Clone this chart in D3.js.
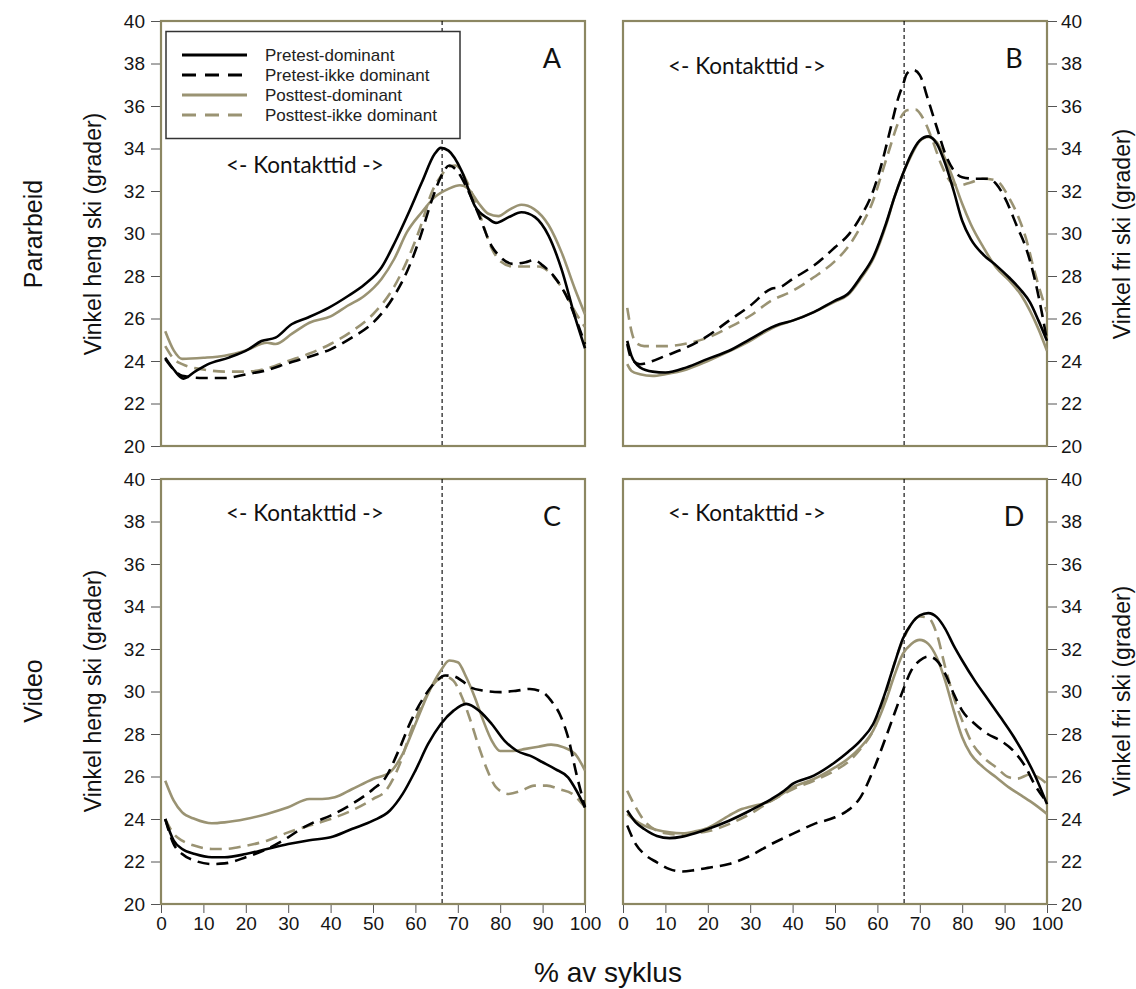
<!DOCTYPE html>
<html>
<head>
<meta charset="utf-8">
<script src="https://cdn.jsdelivr.net/npm/d3@7"></script>
<style>
  body { margin: 0; background: #fff; }
  svg { display: block; }
  .tick text { font-family: "Liberation Sans", Arial, sans-serif; font-size: 19px; fill: #151515; }
</style>
</head>
<body>
<div id="chart"></div>
<script>
// values: [% av syklus, grader]
const A_preDom = [[1,24.16],[3,23.6],[5.3,23.17],[8,23.5],[11,23.84],[16,24.16],[20.6,24.55],[23.7,24.94],[27,25.1],[30.8,25.73],[34.7,26.05],[39.5,26.5],[44.2,27.07],[48,27.6],[52,28.4],[55.2,29.6],[58.3,30.93],[61.5,32.4],[64.6,33.76],[66,34.03],[67.8,33.9],[71,32.9],[74,31.3],[77.2,30.7],[79,30.5],[82,30.77],[85,31.0],[88.2,30.77],[91.4,29.9],[94.5,28.3],[97.6,26.1],[100,24.6]];
const A_preIkke = [[1,24.1],[3,23.6],[5,23.3],[10,23.2],[15,23.2],[20,23.37],[25,23.57],[30,23.9],[35,24.2],[40,24.55],[45,25.1],[50,25.8],[55,27.07],[58,28.2],[61,29.75],[64,31.64],[66,32.66],[68,33.2],[70,32.9],[72,32.2],[75,30.85],[78,29.4],[80,28.9],[83,28.57],[86,28.65],[88,28.75],[90,28.5],[93,27.9],[96,26.9],[98,25.9],[100,24.8]];
const A_postDom = [[1,25.4],[3,24.5],[5,24.1],[10,24.15],[15,24.25],[20,24.5],[25,24.86],[27,24.8],[31,25.3],[35,25.8],[40,26.1],[44,26.6],[48,27.07],[52,27.86],[55,28.8],[58,30.06],[61.5,31.0],[64.5,31.7],[67.8,32.1],[70.5,32.27],[72.5,32.1],[75,31.4],[77.2,30.93],[79.6,30.82],[82,31.1],[85,31.35],[88,31.15],[91.4,30.4],[94.5,29.1],[97.6,27.4],[100,26.2]];
const A_postIkke = [[1,24.7],[3,24.1],[5,23.85],[10,23.6],[15,23.5],[20,23.5],[25,23.65],[30,24.0],[35,24.35],[40,24.8],[45,25.4],[50,26.2],[55,27.5],[58,28.7],[61,30.2],[64,32.0],[66,32.7],[68,33.15],[69.5,33.2],[72,32.5],[75,31.0],[78,29.3],[80,28.7],[83,28.45],[86,28.45],[89,28.45],[92,28.1],[95,27.3],[98,26.2],[100,25.6]];

const B_preDom = [[1,24.95],[2,24.24],[4,23.7],[7,23.5],[10,23.46],[15,23.7],[20,24.1],[25,24.48],[30,25.03],[35,25.58],[37,25.74],[40,25.9],[45,26.3],[50,26.84],[53,27.15],[56,27.94],[59,28.88],[62,30.45],[64,31.7],[66,32.8],[68,33.75],[70,34.38],[72,34.57],[74,34.23],[76,33.28],[78,32.0],[80,30.6],[82,29.75],[85,29.0],[88,28.5],[91,27.94],[94,27.3],[96,26.76],[98,25.9],[100,24.95]];
const B_preIkke = [[1,24.8],[2,24.1],[4,23.85],[7,24.0],[10,24.24],[15,24.64],[20,25.18],[25,25.9],[30,26.6],[35,27.4],[37,27.47],[40,27.86],[45,28.49],[50,29.35],[53,29.9],[56,30.77],[59,32.0],[61,33.28],[63,34.86],[65,36.43],[66,36.98],[67,37.53],[68.5,37.69],[70,37.45],[72,36.27],[74,35.0],[76,33.75],[78,32.97],[80,32.65],[83,32.58],[86,32.58],[88,32.34],[90,31.7],[93,30.3],[95,29.35],[97,27.94],[99,26.05],[100,24.95]];
const B_postDom = [[1,23.85],[2,23.53],[4,23.38],[7,23.3],[10,23.38],[15,23.6],[20,24.0],[25,24.45],[30,24.95],[35,25.53],[37,25.7],[40,25.9],[45,26.3],[50,26.8],[53,27.1],[56,27.86],[59,28.8],[62,30.37],[64,31.7],[66,32.8],[68,33.68],[70,34.35],[72,34.54],[74,34.3],[76,33.5],[78,32.5],[80,31.4],[82,30.45],[85,29.35],[88,28.4],[91,27.8],[94,27.07],[96,26.36],[98,25.5],[100,24.48]];
const B_postIkke = [[1,26.5],[2,25.4],[3,24.87],[5,24.7],[10,24.7],[15,24.82],[20,25.1],[25,25.58],[30,26.13],[35,26.84],[40,27.3],[45,27.94],[50,28.7],[53,29.35],[56,30.3],[59,31.55],[61,32.8],[63,34.07],[65,35.25],[67,35.8],[69,35.83],[71,35.33],[73,34.38],[75,33.28],[77,32.5],[79,32.26],[82,32.4],[85,32.58],[88,32.5],[91,31.7],[93,30.9],[95,29.8],[97,28.25],[99,26.9],[100,26.3]];

const C_preDom = [[1,24.0],[3,22.98],[5,22.59],[8,22.35],[12,22.2],[15,22.2],[20,22.35],[25,22.59],[30,22.82],[35,23.0],[40,23.14],[45,23.53],[50,23.92],[54,24.4],[57,25.18],[60,26.28],[63,27.53],[66,28.47],[69,29.1],[72,29.42],[75,29.1],[78,28.47],[81,27.69],[84,27.2],[87,26.98],[90,26.67],[93,26.35],[96,25.96],[98,25.33],[100,24.55]];
const C_preIkke = [[1,24.0],[3,22.82],[5,22.35],[8,22.04],[12,21.88],[15,21.91],[20,22.2],[25,22.59],[30,23.14],[33,23.53],[36,23.84],[40,24.16],[45,24.7],[50,25.4],[53,25.96],[56,27.2],[59,28.63],[62,29.73],[65,30.5],[67,30.75],[69,30.72],[71,30.5],[73,30.2],[76,30.04],[80,29.97],[84,30.04],[87,30.12],[90,29.97],[92,29.57],[94,28.95],[96,27.85],[98,26.1],[100,24.55]];
const C_postDom = [[1,25.8],[3,24.86],[5,24.31],[8,24.0],[12,23.8],[15,23.84],[20,24.0],[25,24.24],[30,24.55],[35,24.94],[38,24.94],[41,25.02],[45,25.4],[50,25.88],[54,26.2],[57,27.06],[60,28.47],[63,29.9],[66,30.99],[68,31.46],[70,31.38],[72,30.67],[74,29.73],[76,28.63],[78,27.69],[80,27.2],[83,27.2],[86,27.3],[89,27.4],[92,27.5],[95,27.37],[98,26.98],[100,26.28]];
const C_postIkke = [[1,24.0],[3,23.3],[5,22.98],[8,22.74],[12,22.59],[15,22.59],[20,22.74],[25,22.98],[30,23.37],[35,23.69],[40,24.0],[45,24.4],[50,24.94],[53,25.33],[56,26.43],[59,28.16],[62,29.57],[65,30.5],[67,30.7],[69,30.5],[71,29.73],[73,28.63],[75,27.38],[77,26.28],[79,25.5],[82,25.18],[85,25.33],[88,25.57],[91,25.57],[94,25.4],[97,25.18],[100,24.55]];

const D_preDom = [[1,24.4],[3,23.84],[5,23.53],[8,23.2],[11,23.1],[14,23.17],[17,23.33],[20,23.53],[25,23.92],[30,24.4],[35,24.94],[38,25.33],[40,25.65],[45,26.04],[50,26.67],[53,27.14],[56,27.69],[59,28.47],[62,30.04],[64,31.3],[66,32.48],[68,33.18],[70,33.58],[72,33.69],[74,33.5],[76,32.95],[78,32.16],[80,31.46],[83,30.5],[86,29.65],[89,28.8],[92,27.92],[95,26.9],[97,26.12],[100,24.7]];
const D_preIkke = [[1,23.69],[3,22.82],[5,22.35],[8,21.96],[11,21.64],[14,21.53],[17,21.6],[20,21.7],[25,21.88],[30,22.27],[35,22.82],[40,23.3],[45,23.76],[50,24.08],[53,24.4],[56,25.02],[59,26.28],[62,27.85],[64,28.95],[66,30.04],[68,30.99],[70,31.46],[72,31.65],[74,31.46],[76,30.83],[78,29.89],[80,29.1],[83,28.47],[86,28.0],[89,27.69],[92,27.22],[95,26.43],[97,25.65],[100,24.79]];
const D_postDom = [[1,24.24],[3,23.92],[5,23.69],[8,23.48],[11,23.37],[14,23.33],[17,23.42],[20,23.58],[25,24.16],[28,24.47],[30,24.58],[35,24.86],[40,25.49],[45,25.88],[50,26.43],[53,26.82],[56,27.37],[59,28.16],[62,29.57],[64,30.75],[66,31.77],[68,32.24],[70,32.43],[72,32.24],[74,31.6],[76,30.5],[78,29.1],[80,27.85],[82,27.06],[85,26.43],[88,25.96],[91,25.49],[94,25.1],[97,24.7],[100,24.24]];
const D_postIkke = [[1,25.33],[3,24.55],[5,23.92],[8,23.45],[11,23.3],[14,23.26],[17,23.33],[20,23.42],[25,23.76],[30,24.24],[35,24.86],[40,25.4],[45,25.8],[50,26.28],[53,26.67],[56,27.3],[59,28.16],[62,29.89],[64,31.3],[66,32.4],[68,33.18],[70,33.53],[72,33.47],[74,32.71],[76,31.14],[78,29.73],[80,28.63],[82,27.69],[85,26.9],[88,26.43],[91,25.96],[93,25.9],[96,26.1],[98,25.96],[100,25.65]];

const seriesNames = ["Pretest-dominant", "Pretest-ikke dominant", "Posttest-dominant", "Posttest-ikke dominant"];
const yTicks = [20, 22, 24, 26, 28, 30, 32, 34, 36, 38, 40];
const xTicks = [0, 10, 20, 30, 40, 50, 60, 70, 80, 90, 100];
const contactEnd = 66.3;
const rowLabels = ["Pararbeid", "Video"];
const leftTitle = "Vinkel heng ski (grader)";
const rightTitle = "Vinkel fri ski (grader)";
const xTitle = "% av syklus";
const contactText = "<- Kontakttid ->";

const styles = [
    {color: "#000", dash: null},
    {color: "#000", dash: "12,7"},
    {color: "#9a9373", dash: null},
    {color: "#9a9373", dash: "12,7"}
];
const frameColor = "#8c8762";

const panels = [
    {letter: "A", data: [A_preDom, A_preIkke, A_postDom, A_postIkke], x0: 161, y0: 21, right: false, bottom: false, tx: 226, ty: 173},
    {letter: "B", data: [B_preDom, B_preIkke, B_postDom, B_postIkke], x0: 623, y0: 21, right: true, bottom: false, tx: 668, ty: 74},
    {letter: "C", data: [C_preDom, C_preIkke, C_postDom, C_postIkke], x0: 161, y0: 479, right: false, bottom: true, tx: 226, ty: 521},
    {letter: "D", data: [D_preDom, D_preIkke, D_postDom, D_postIkke], x0: 623, y0: 479, right: true, bottom: true, tx: 668, ty: 521}
];
const pw = 424, ph = 425;

const svg = d3.select("#chart").append("svg")
    .attr("width", 1136)
    .attr("height", 989);

panels.forEach(p => {
    let x = d3.scaleLinear().domain([0, 100]).range([0, pw]);
    let y = d3.scaleLinear().domain([20, 40]).range([ph, 0]);
    let g = svg.append("g").attr("transform", "translate(" + p.x0 + "," + p.y0 + ")");

    let yAxis = p.right ? d3.axisRight(y) : d3.axisLeft(y);
    g.append("g")
        .attr("transform", p.right ? "translate(" + pw + ",0)" : null)
        .call(yAxis.tickValues(yTicks).tickSize(10).tickPadding(p.right ? 4 : 6).tickSizeOuter(0));
    if (p.bottom) {
        g.append("g")
            .attr("transform", "translate(0," + ph + ")")
            .call(d3.axisBottom(x).tickValues(xTicks).tickSize(9).tickPadding(4).tickSizeOuter(0));
    }
    g.selectAll(".domain").remove();
    g.selectAll(".tick line").attr("stroke", "#555").attr("stroke-width", 1);

    g.append("rect")
        .attr("width", pw).attr("height", ph)
        .attr("fill", "none")
        .attr("stroke", frameColor)
        .attr("stroke-width", 2.2);

    g.append("line")
        .attr("x1", x(contactEnd)).attr("x2", x(contactEnd))
        .attr("y1", 0).attr("y2", ph)
        .attr("stroke", "#000").attr("stroke-width", 1.1)
        .attr("stroke-dasharray", "4,3");

    let line = d3.line()
        .x(d => x(d[0]))
        .y(d => y(d[1]))
        .curve(d3.curveMonotoneX);

    // khaki first, black on top
    [2, 3, 0, 1].forEach(i => {
        g.append("path")
            .datum(p.data[i])
            .attr("d", line)
            .attr("fill", "none")
            .attr("stroke", styles[i].color)
            .attr("stroke-width", 2.6)
            .attr("stroke-dasharray", styles[i].dash);
    });

    svg.append("text")
        .attr("x", p.tx).attr("y", p.ty)
        .attr("font-family", "Lato, sans-serif")
        .attr("font-size", 22.5)
        .attr("fill", "#111")
        .text(contactText);

    svg.append("text")
        .attr("x", p.x0 + pw - 33).attr("y", p.y0 + 47)
        .attr("text-anchor", "middle")
        .attr("font-family", "Lato, sans-serif")
        .attr("font-size", 27)
        .attr("fill", "#111")
        .text(p.letter);
});

// legend in panel A
let legend = svg.append("g");
legend.append("rect")
    .attr("x", 166).attr("y", 31.5).attr("width", 294).attr("height", 107)
    .attr("fill", "#fff").attr("stroke", "#333").attr("stroke-width", 1.5);
seriesNames.forEach((name, i) => {
    let ly = 55 + i * 20;
    legend.append("line")
        .attr("x1", 182).attr("x2", 247).attr("y1", ly).attr("y2", ly)
        .attr("stroke", styles[i].color).attr("stroke-width", 2.8)
        .attr("stroke-dasharray", styles[i].dash ? "14,9" : null);
    legend.append("text")
        .attr("x", 265).attr("y", ly + 5.5)
        .attr("font-family", "Liberation Sans, Arial, sans-serif")
        .attr("font-size", 17)
        .attr("fill", "#222")
        .text(name);
});

// titles
const titleFont = "Liberation Sans, Arial, sans-serif";
rowLabels.forEach((t, i) => {
    let cy = i == 0 ? 234 : 691;
    svg.append("text")
        .attr("transform", "translate(42," + cy + ") rotate(-90)")
        .attr("text-anchor", "middle")
        .attr("font-family", titleFont).attr("font-size", 25)
        .attr("fill", "#111")
        .text(t);
    svg.append("text")
        .attr("transform", "translate(101," + cy + ") rotate(-90)")
        .attr("text-anchor", "middle")
        .attr("font-family", titleFont).attr("font-size", 23)
        .attr("fill", "#111")
        .text(leftTitle);
    svg.append("text")
        .attr("transform", "translate(1130," + cy + ") rotate(-90)")
        .attr("text-anchor", "middle")
        .attr("font-family", titleFont).attr("font-size", 23)
        .attr("fill", "#111")
        .text(rightTitle);
});

svg.append("text")
    .attr("x", 608).attr("y", 982)
    .attr("text-anchor", "middle")
    .attr("font-family", titleFont).attr("font-size", 28)
    .attr("fill", "#111")
    .text(xTitle);
</script>
</body>
</html>
